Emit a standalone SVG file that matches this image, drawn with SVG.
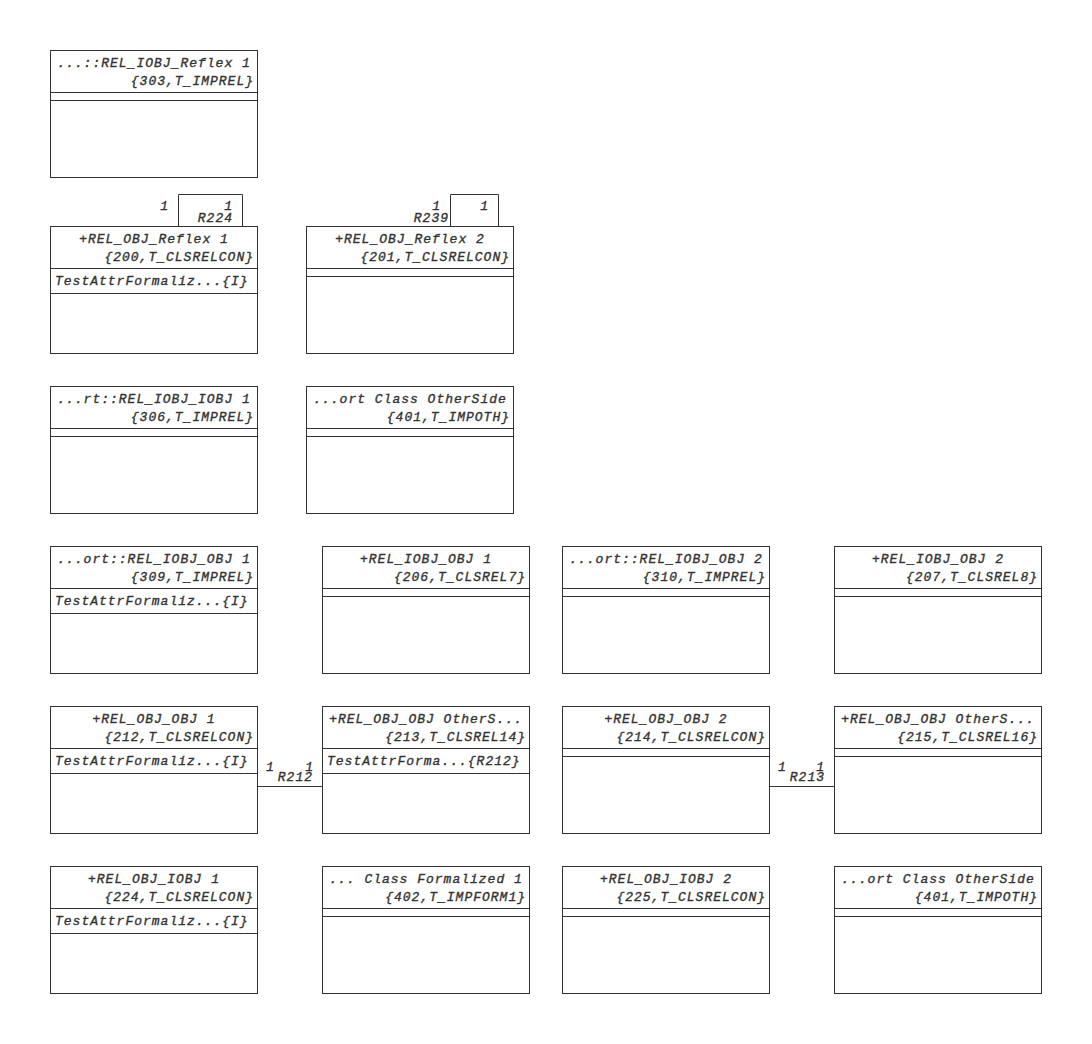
<svg xmlns="http://www.w3.org/2000/svg" width="1092" height="1044" viewBox="0 0 1092 1044">
  <style>
    .box { fill: #ffffff; stroke: #333333; stroke-width: 1; }
    .div { stroke: #333333; stroke-width: 1; fill: none; }
    .conn { stroke: #333333; stroke-width: 1; fill: none; }
    text { font-family: "Liberation Mono", "Courier New", monospace; font-size: 13px; font-style: italic; font-weight: normal; fill: #333333; stroke: #333333; stroke-width: 0.35px; letter-spacing: 1px; }
    .c { text-anchor: middle; }
    .r { text-anchor: end; }
  </style>
  <rect width="1092" height="1044" fill="#ffffff"/>

  <!-- connectors -->
  <g id="connectors">
    <g id="R224">
      <path class="conn" d="M178.5,226 V194.5 H242.5 V226"/>
      <text class="r" x="169" y="210">1</text>
      <text class="r" x="233" y="210">1</text>
      <text class="r" x="233" y="222">R224</text>
    </g>
    <g id="R239">
      <path class="conn" d="M450.5,226 V194.5 H498.5 V226"/>
      <text class="r" x="441" y="210">1</text>
      <text class="r" x="489" y="210">1</text>
      <text class="r" x="449" y="222">R239</text>
    </g>
    <g id="R212">
      <path class="conn" d="M257,786.5 H322"/>
      <text x="266" y="771">1</text>
      <text class="r" x="314" y="771">1</text>
      <text class="r" x="313" y="781">R212</text>
    </g>
    <g id="R213">
      <path class="conn" d="M769,786.5 H834"/>
      <text x="778" y="771">1</text>
      <text class="r" x="825" y="771">1</text>
      <text class="r" x="825" y="781">R213</text>
    </g>
  </g>

  <!-- class nodes: header (name + key letters), attribute compartment, operation compartment -->
  <g id="node-303">
    <rect class="box" x="50.5" y="50.5" width="207" height="127"/>
    <path class="div" d="M50.5,92.5 H257.5 M50.5,100.5 H257.5"/>
    <text class="c" x="154" y="67">...::REL_IOBJ_Reflex 1</text>
    <text class="r" x="254" y="85">{303,T_IMPREL}</text>
  </g>

  <g id="node-200">
    <rect class="box" x="50.5" y="226.5" width="207" height="127"/>
    <path class="div" d="M50.5,268.5 H257.5 M50.5,293.5 H257.5"/>
    <text class="c" x="154" y="243">+REL_OBJ_Reflex 1</text>
    <text class="r" x="254" y="261">{200,T_CLSRELCON}</text>
    <text x="55" y="285">TestAttrFormaliz...{I}</text>
  </g>

  <g id="node-201">
    <rect class="box" x="306.5" y="226.5" width="207" height="127"/>
    <path class="div" d="M306.5,268.5 H513.5 M306.5,276.5 H513.5"/>
    <text class="c" x="410" y="243">+REL_OBJ_Reflex 2</text>
    <text class="r" x="510" y="261">{201,T_CLSRELCON}</text>
  </g>

  <g id="node-306">
    <rect class="box" x="50.5" y="386.5" width="207" height="127"/>
    <path class="div" d="M50.5,428.5 H257.5 M50.5,436.5 H257.5"/>
    <text class="c" x="154" y="403">...rt::REL_IOBJ_IOBJ 1</text>
    <text class="r" x="254" y="421">{306,T_IMPREL}</text>
  </g>

  <g id="node-401a">
    <rect class="box" x="306.5" y="386.5" width="207" height="127"/>
    <path class="div" d="M306.5,428.5 H513.5 M306.5,436.5 H513.5"/>
    <text class="c" x="410" y="403">...ort Class OtherSide</text>
    <text class="r" x="510" y="421">{401,T_IMPOTH}</text>
  </g>

  <g id="node-309">
    <rect class="box" x="50.5" y="546.5" width="207" height="127"/>
    <path class="div" d="M50.5,588.5 H257.5 M50.5,613.5 H257.5"/>
    <text class="c" x="154" y="563">...ort::REL_IOBJ_OBJ 1</text>
    <text class="r" x="254" y="581">{309,T_IMPREL}</text>
    <text x="55" y="605">TestAttrFormaliz...{I}</text>
  </g>

  <g id="node-206">
    <rect class="box" x="322.5" y="546.5" width="207" height="127"/>
    <path class="div" d="M322.5,588.5 H529.5 M322.5,596.5 H529.5"/>
    <text class="c" x="426" y="563">+REL_IOBJ_OBJ 1</text>
    <text class="r" x="526" y="581">{206,T_CLSREL7}</text>
  </g>

  <g id="node-310">
    <rect class="box" x="562.5" y="546.5" width="207" height="127"/>
    <path class="div" d="M562.5,588.5 H769.5 M562.5,596.5 H769.5"/>
    <text class="c" x="666" y="563">...ort::REL_IOBJ_OBJ 2</text>
    <text class="r" x="766" y="581">{310,T_IMPREL}</text>
  </g>

  <g id="node-207">
    <rect class="box" x="834.5" y="546.5" width="207" height="127"/>
    <path class="div" d="M834.5,588.5 H1041.5 M834.5,596.5 H1041.5"/>
    <text class="c" x="938" y="563">+REL_IOBJ_OBJ 2</text>
    <text class="r" x="1038" y="581">{207,T_CLSREL8}</text>
  </g>

  <g id="node-212">
    <rect class="box" x="50.5" y="706.5" width="207" height="127"/>
    <path class="div" d="M50.5,748.5 H257.5 M50.5,773.5 H257.5"/>
    <text class="c" x="154" y="723">+REL_OBJ_OBJ 1</text>
    <text class="r" x="254" y="741">{212,T_CLSRELCON}</text>
    <text x="55" y="765">TestAttrFormaliz...{I}</text>
  </g>

  <g id="node-213">
    <rect class="box" x="322.5" y="706.5" width="207" height="127"/>
    <path class="div" d="M322.5,748.5 H529.5 M322.5,773.5 H529.5"/>
    <text class="c" x="426" y="723">+REL_OBJ_OBJ OtherS...</text>
    <text class="r" x="526" y="741">{213,T_CLSREL14}</text>
    <text x="327" y="765">TestAttrForma...{R212}</text>
  </g>

  <g id="node-214">
    <rect class="box" x="562.5" y="706.5" width="207" height="127"/>
    <path class="div" d="M562.5,748.5 H769.5 M562.5,756.5 H769.5"/>
    <text class="c" x="666" y="723">+REL_OBJ_OBJ 2</text>
    <text class="r" x="766" y="741">{214,T_CLSRELCON}</text>
  </g>

  <g id="node-215">
    <rect class="box" x="834.5" y="706.5" width="207" height="127"/>
    <path class="div" d="M834.5,748.5 H1041.5 M834.5,756.5 H1041.5"/>
    <text class="c" x="938" y="723">+REL_OBJ_OBJ OtherS...</text>
    <text class="r" x="1038" y="741">{215,T_CLSREL16}</text>
  </g>

  <g id="node-224">
    <rect class="box" x="50.5" y="866.5" width="207" height="127"/>
    <path class="div" d="M50.5,908.5 H257.5 M50.5,933.5 H257.5"/>
    <text class="c" x="154" y="883">+REL_OBJ_IOBJ 1</text>
    <text class="r" x="254" y="901">{224,T_CLSRELCON}</text>
    <text x="55" y="925">TestAttrFormaliz...{I}</text>
  </g>

  <g id="node-402">
    <rect class="box" x="322.5" y="866.5" width="207" height="127"/>
    <path class="div" d="M322.5,908.5 H529.5 M322.5,916.5 H529.5"/>
    <text class="c" x="426" y="883">... Class Formalized 1</text>
    <text class="r" x="526" y="901">{402,T_IMPFORM1}</text>
  </g>

  <g id="node-225">
    <rect class="box" x="562.5" y="866.5" width="207" height="127"/>
    <path class="div" d="M562.5,908.5 H769.5 M562.5,916.5 H769.5"/>
    <text class="c" x="666" y="883">+REL_OBJ_IOBJ 2</text>
    <text class="r" x="766" y="901">{225,T_CLSRELCON}</text>
  </g>

  <g id="node-401b">
    <rect class="box" x="834.5" y="866.5" width="207" height="127"/>
    <path class="div" d="M834.5,908.5 H1041.5 M834.5,916.5 H1041.5"/>
    <text class="c" x="938" y="883">...ort Class OtherSide</text>
    <text class="r" x="1038" y="901">{401,T_IMPOTH}</text>
  </g>
</svg>
